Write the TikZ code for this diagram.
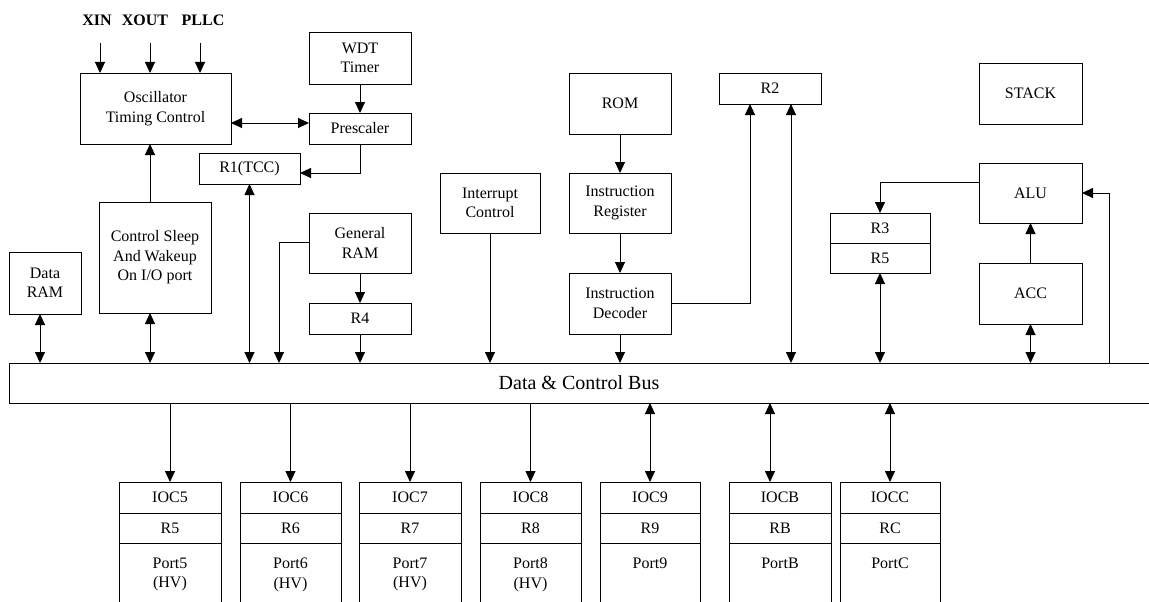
\documentclass[tikz,border=0pt]{standalone}
\usepackage{fontspec}
\setmainfont{Liberation Serif}
\usetikzlibrary{arrows.meta}
\newcommand\bx[6]{\node[box, minimum width={#4-#2}, minimum height={#5-#3}] (#1) at ({(#2+#4)/2},{(#3+#5)/2}) {#6};}
\newcommand\portcol[6]{%
  \bx{#1a}{#2}{482}{#3}{513}{#4}
  \bx{#1b}{#2}{513}{#3}{543}{#5}
  \bx{#1c}{#2}{543}{#3}{640}{}
  \node[box,draw=none,anchor=north] (#1t) at ({(#2+#3)/2},558) {#6};}
\begin{document}
\begin{tikzpicture}[x=1pt,y=-1pt, line width=0.9pt,
 box/.style={draw, inner sep=0pt, outer sep=0pt, align=center, font=\fontsize{16}{19.5}\selectfont},
 arr/.style={-{Triangle[length=11pt,width=10pt]}},
 darr/.style={{Triangle[length=11pt,width=10pt]}-{Triangle[length=11pt,width=10pt]}},
 lbl/.style={font=\fontsize{16}{19}\selectfont\bfseries, inner sep=0pt}]
\useasboundingbox[fill=white] (0,0) rectangle (1149,602);

% labels
\node[lbl] (lxin) at (97,20) {XIN};
\node[lbl] (lxout) at (145,20) {XOUT};
\node[lbl] (lpllc) at (203,20) {PLLC};

% boxes
\bx{osc}{80}{73}{231}{144}{Oscillator\\Timing Control}
\bx{wdt}{309}{32}{411}{84}{WDT\\Timer}
\bx{pre}{309}{113}{411}{144}{Prescaler}
\bx{r1}{199}{153}{300}{184}{R1(TCC)}
\bx{sleep}{99}{202}{211}{313}{Control Sleep\\And Wakeup\\On I/O port}
\bx{dram}{9}{252}{81}{314}{Data\\RAM}
\bx{gram}{309}{213}{411}{273}{General\\RAM}
\bx{r4}{309}{303}{411}{334}{R4}
\bx{intc}{440}{173}{540}{233}{Interrupt\\Control}
\bx{rom}{569}{73}{671}{134}{ROM}
\bx{ir}{569}{173}{671}{233}{Instruction\\Register}
\bx{id}{569}{273}{671}{334}{Instruction\\Decoder}
\bx{r2}{719}{73}{821}{104}{R2}
\bx{stack}{979}{63}{1082}{124}{STACK}
\bx{alu}{979}{163}{1082}{223}{ALU}
\bx{acc}{979}{263}{1082}{324}{ACC}
\bx{r3}{830}{213}{930}{243}{R3}
\bx{r5}{830}{243}{930}{273}{R5}

% bus
\node[inner sep=0pt, outer sep=0pt, minimum width=1140, minimum height=40,
  font=\fontsize{20}{24}\selectfont] (bus) at (579,383) {Data \& Control Bus};
\draw (bus.north east) -- (bus.north west) -- (bus.south west) -- (bus.south east);

% ports
\portcol{p5}{119}{221}{IOC5}{R5}{Port5\\(HV)}
\portcol{p6}{240}{341}{IOC6}{R6}{Port6\\(HV)}
\portcol{p7}{359}{461}{IOC7}{R7}{Port7\\(HV)}
\portcol{p8}{480}{581}{IOC8}{R8}{Port8\\(HV)}
\portcol{p9}{600}{700}{IOC9}{R9}{Port9}
\portcol{pB}{729}{831}{IOCB}{RB}{PortB}
\portcol{pC}{840}{940}{IOCC}{RC}{PortC}

% coordinates
\coordinate (cxin) at (100,43);
\coordinate (cxout) at (150,43);
\coordinate (cpllc) at (200,43);
\coordinate (cop) at (0,123);
\coordinate (cpr) at (0,173);
\coordinate (cdr) at (40,0);
\coordinate (cgr) at (279,242);
\coordinate (cid) at (750,0);
\coordinate (cr2) at (791,0);
\coordinate (cal) at (880,182);
\coordinate (cbr) at (1109,0);
\coordinate (cpb) at (770,0);

% connectors
\draw[arr] (cxin) -- (cxin |- osc.north);
\draw[arr] (cxout) -- (cxout |- osc.north);
\draw[arr] (cpllc) -- (cpllc |- osc.north);
\draw[darr] (cop -| osc.east) -- (cop -| pre.west);
\draw[arr] (wdt) -- (pre);
\draw[arr] (pre.south) |- (cpr -| r1.east);
\draw[arr] (sleep.north -| cxout) -- (osc.south -| cxout);
\draw[darr] (sleep.south -| cxout) -- (bus.north -| cxout);
\draw[darr] (dram.south -| cdr) -- (bus.north -| cdr);
\draw[darr] (r1.south) -- (r1.south |- bus.north);
\draw[arr] (gram.west |- cgr) -| (cgr |- bus.north);
\draw[arr] (gram) -- (r4);
\draw[arr] (r4) -- (r4.south |- bus.north);
\draw[arr] (intc) -- (intc.south |- bus.north);
\draw[arr] (rom) -- (ir);
\draw[arr] (ir) -- (id);
\draw[arr] (id) -- (id.south |- bus.north);
\draw[arr] (id.east) -| (cid |- r2.south);
\draw[darr] (cr2 |- r2.south) -- (cr2 |- bus.north);
\draw[arr] (alu.west |- cal) -| (r3.north);
\draw[darr] (r5.south) -- (r5.south |- bus.north);
\draw[arr] (acc) -- (alu);
\draw[darr] (acc.south) -- (acc.south |- bus.north);
\draw[arr] (cbr |- bus.north) |- (alu.east);

\draw[arr] (p5a.north |- bus.south) -- (p5a.north);
\draw[arr] (p6a.north |- bus.south) -- (p6a.north);
\draw[arr] (p7a.north |- bus.south) -- (p7a.north);
\draw[arr] (p8a.north |- bus.south) -- (p8a.north);
\draw[darr] (p9a.north |- bus.south) -- (p9a.north);
\draw[darr] (cpb |- bus.south) -- (cpb |- pBa.north);
\draw[darr] (pCa.north |- bus.south) -- (pCa.north);
\end{tikzpicture}
\end{document}
